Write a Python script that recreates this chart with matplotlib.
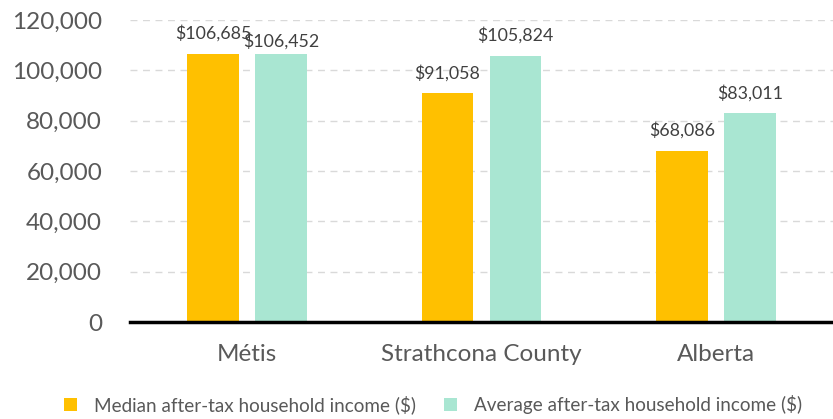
import numpy as np
import matplotlib
matplotlib.use('Agg')
import matplotlib.pyplot as plt

categorias = ['Métis', 'Strathcona County', 'Alberta']
mediana = [106685, 91058, 68086]
promedio = [106452, 105824, 83011]
etiquetas_mediana = ['$106,685', '$91,058', '$68,086']
etiquetas_promedio = ['$106,452', '$105,824', '$83,011']

plt.rcParams['font.family'] = ['Lato', 'DejaVu Sans']
gris = '#595959'

fig = plt.figure(figsize=(8.33, 4.19), dpi=100)
ax = fig.add_axes([0.156, 0.2315, 0.844, 0.7205])

x = np.arange(len(categorias))
ancho = 0.22
desp = 0.145
b1 = ax.bar(x - desp, mediana, ancho, color='#FFC000', label='Median after-tax household income ($)', zorder=3)
b2 = ax.bar(x + desp, promedio, ancho, color='#A9E6D2', label='Average after-tax household income ($)', zorder=3)

for barra, txt in zip(b1, etiquetas_mediana):
    ax.text(barra.get_x() + barra.get_width() / 2, barra.get_height() + 8000, txt,
            ha='center', va='center', fontsize=12.8, color='#404040')
# la primera etiqueta del promedio va un poco mas abajo, como en el original
for i, (barra, txt) in enumerate(zip(b2, etiquetas_promedio)):
    sube = 5000 if i == 0 else 8000
    ax.text(barra.get_x() + barra.get_width() / 2, barra.get_height() + sube, txt,
            ha='center', va='center', fontsize=12.8, color='#404040')

ax.set_xlim(-0.5, 2.5)
ax.set_ylim(0, 120000)
ax.set_yticks(range(0, 120001, 20000))
ax.set_yticklabels([f'{v:,}' for v in range(0, 120001, 20000)])
ax.set_xticks(x)
ax.set_xticklabels(categorias)
ax.tick_params(axis='y', length=0, labelsize=17.5, labelcolor=gris, pad=20)
ax.tick_params(axis='x', length=0, labelsize=17.5, labelcolor=gris, pad=16)
ax.yaxis.grid(True, linestyle=(0, (5, 4)), color='#D9D9D9', linewidth=1, zorder=0)
for lado in ['top', 'right', 'left']:
    ax.spines[lado].set_visible(False)
ax.spines['bottom'].set_linewidth(2.5)
ax.spines['bottom'].set_color('black')
ax.spines['bottom'].set_zorder(4)

fig.legend(handles=[b1, b2], loc='center', bbox_to_anchor=(0.52, 0.035), ncol=2, frameon=False,
           fontsize=13.6, labelcolor=gris, handlelength=0.7, handleheight=0.7, columnspacing=1.5,
           handletextpad=0.9)

fig.savefig('out.png', dpi=100)
